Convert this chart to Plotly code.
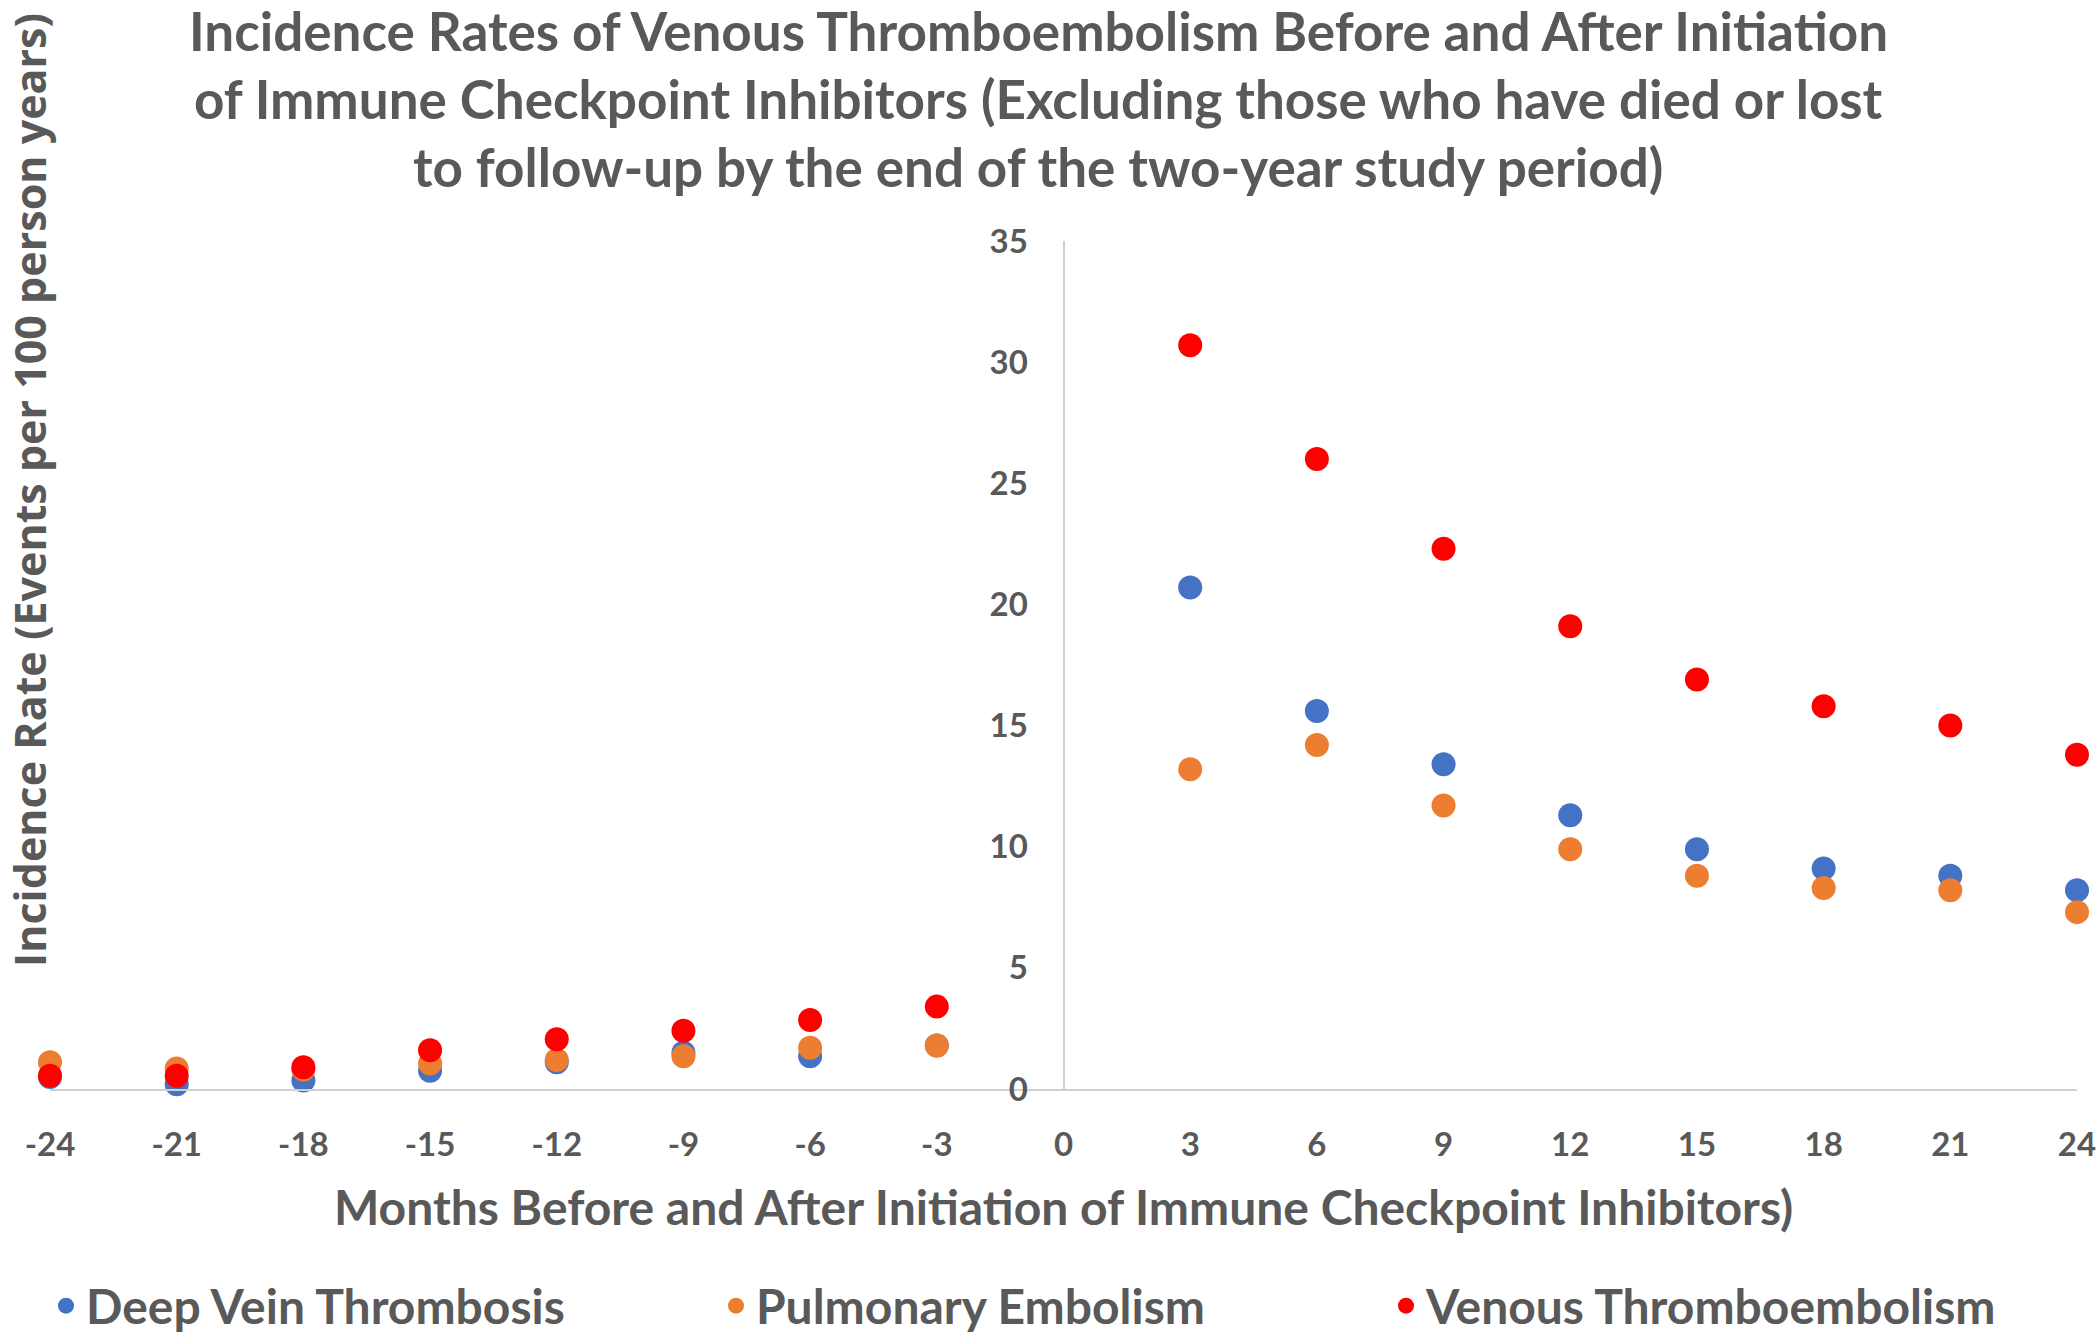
import plotly.graph_objects as go

months = [-24, -21, -18, -15, -12, -9, -6, -3, 3, 6, 9, 12, 15, 18, 21, 24]
dvt = [0.5, 0.2, 0.35, 0.75, 1.1, 1.5, 1.35, 1.8, 20.7, 15.6, 13.4, 11.3, 9.9, 9.1, 8.8, 8.2]
pe = [1.1, 0.85, 0.8, 1.05, 1.2, 1.35, 1.7, 1.8, 13.2, 14.2, 11.7, 9.9, 8.8, 8.3, 8.2, 7.3]
vte = [0.55, 0.55, 0.9, 1.6, 2.05, 2.4, 2.85, 3.4, 30.7, 26.0, 22.3, 19.1, 16.9, 15.8, 15.0, 13.8]

x_ticks = list(range(-24, 25, 3))
x_labels = [str(v) for v in x_ticks]
y_ticks = list(range(0, 36, 5))

title_lines = [
    "Incidence Rates of Venous Thromboembolism Before and After Initiation",
    "of Immune Checkpoint Inhibitors (Excluding those who have died or lost",
    "to follow-up by the end of the two-year study period)",
]

GREY = "#595959"
AXIS = "#D0D0D0"
FONT = "Lato"

W, H = 2100, 1338
# plot area in page pixels: x 50..2077, y 241..1089
L, T = 50, 241
R, B = W - 2077, H - 1089
pw, ph = W - L - R, H - T - B


def px_x(x):
    return (x - L) / pw


def px_y(y):
    return (H - B - y) / ph


fig = go.Figure()
series = [("Deep Vein Thrombosis", dvt, "#4472C4"),
          ("Pulmonary Embolism", pe, "#ED7D31"),
          ("Venous Thromboembolism", vte, "#FF0000")]
for name, vals, col in series:
    fig.add_trace(go.Scatter(x=months, y=vals, mode="markers", name=name,
                             marker=dict(color=col, size=24, line=dict(width=0)),
                             cliponaxis=False))

annotations = []
for i, line in enumerate(title_lines):
    annotations.append(dict(text=line, x=px_x(1038), y=px_y([31, 98, 166][i]),
                            xref="paper", yref="paper", showarrow=False,
                            xanchor="center", yanchor="middle",
                            font=dict(family=FONT, size=53, color=GREY, weight="bold")))
annotations.append(dict(text="Incidence Rate (Events per 100 person years)",
                        x=px_x(29), y=px_y(490), xref="paper", yref="paper",
                        showarrow=False, textangle=-90, xanchor="center", yanchor="middle",
                        font=dict(family="Open Sans", size=43, color=GREY, weight="bold")))
annotations.append(dict(text="Months Before and After Initiation of Immune Checkpoint Inhibitors)",
                        x=0.5, y=px_y(1206), xref="paper", yref="paper",
                        showarrow=False, xanchor="center", yanchor="middle",
                        font=dict(family=FONT, size=48, color=GREY, weight="bold")))

fig.update_layout(
    width=W, height=H,
    margin=dict(l=L, r=R, t=T, b=B, autoexpand=False),
    plot_bgcolor="white", paper_bgcolor="white",
    annotations=annotations,
    xaxis=dict(range=[-24, 24], tickvals=x_ticks, ticktext=x_labels,
               showgrid=False, zeroline=False,
               showline=True, linecolor=AXIS, linewidth=2,
               ticks="outside", ticklen=25, tickcolor="rgba(0,0,0,0)",
               ticklabeloverflow="allow",
               tickfont=dict(family=FONT, size=33, color=GREY, weight="bold")),
    yaxis=dict(range=[0, 35], tickvals=y_ticks, showgrid=False, zeroline=False,
               anchor="free", position=0.5,
               showline=True, linecolor=AXIS, linewidth=2,
               ticks="outside", ticklen=28, tickcolor="rgba(0,0,0,0)",
               tickfont=dict(family=FONT, size=33, color=GREY, weight="bold")),
    showlegend=True,
    legend=dict(orientation="h", x=px_x(46), y=px_y(1306), xanchor="left", yanchor="middle",
                entrywidth=625, entrywidthmode="pixels",
                font=dict(family=FONT, size=48, color=GREY, weight="bold")),
)

# drop the default body margin so the figure fills the window exactly
fig.write_html("out.html", config={"displayModeBar": False},
               post_script="document.body.style.margin='0';")
